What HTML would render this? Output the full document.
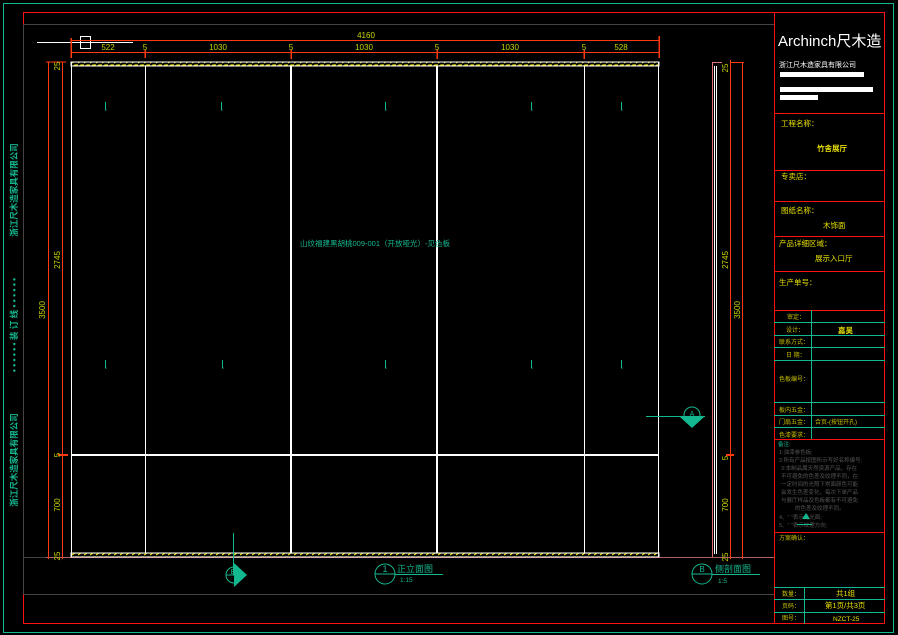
<!DOCTYPE html>
<html><head><meta charset="utf-8"><style>
html,body{margin:0;padding:0;background:#000;}
svg{display:block;}
text{font-family:"Liberation Sans","Noto Sans CJK SC",sans-serif;}
</style></head><body>
<svg width="898" height="635" viewBox="0 0 898 635" xmlns="http://www.w3.org/2000/svg">
<defs>
<pattern id="hatch" width="6" height="4" patternUnits="userSpaceOnUse">
<rect width="6" height="4" fill="#000"/><path d="M0 3 L3 1 L6 1" stroke="#e8e000" stroke-width="1.2" fill="none"/>
</pattern>
</defs>
<rect width="898" height="635" fill="#000"/>
<g shape-rendering="crispEdges">
<rect x="3.5" y="3.5" width="890" height="629" fill="none" stroke="#14b890" stroke-width="1"/>
<rect x="23.5" y="12.5" width="861" height="611" fill="none" stroke="#ff1010" stroke-width="1.2"/>
<line x1="23.5" y1="24.5" x2="774" y2="24.5" stroke="#444" stroke-width="1"/>
<line x1="23.5" y1="24.5" x2="23.5" y2="594" stroke="#444"/>
<line x1="23.5" y1="594.5" x2="774" y2="594.5" stroke="#444"/>
<line x1="23" y1="557.5" x2="774" y2="557.5" stroke="#444"/>
<line x1="46" y1="557.5" x2="774" y2="557.5" stroke="#b06060" stroke-width="0.8"/>
<line x1="774.5" y1="12" x2="774.5" y2="624" stroke="#ff1010" stroke-width="1.2"/>

<line x1="37" y1="42.5" x2="133" y2="42.5" stroke="#fff" stroke-width="1"/>
<rect x="80.5" y="36.5" width="10" height="12" fill="none" stroke="#fff"/>
<line x1="71" y1="40.5" x2="659" y2="40.5" stroke="#ff3a10"/>
<line x1="71" y1="52.5" x2="659" y2="52.5" stroke="#ff3a10"/>
<g stroke="#ff3a10" stroke-width="1.5">
<line x1="71" y1="38" x2="71" y2="58"/><line x1="145" y1="50" x2="145" y2="58"/><line x1="291" y1="50" x2="291" y2="59"/><line x1="437" y1="50" x2="437" y2="59"/><line x1="584" y1="50" x2="584" y2="59"/><line x1="659" y1="36" x2="659" y2="58"/>
</g>

<g stroke="#ff3a10" stroke-width="1">
<line x1="48.5" y1="62" x2="48.5" y2="559"/><line x1="62.5" y1="62" x2="62.5" y2="559"/>
<line x1="46" y1="62" x2="66" y2="62"/><line x1="58" y1="455" x2="68" y2="455" stroke-width="2"/>
</g>

<rect x="71" y="62" width="588" height="4" fill="url(#hatch)" stroke="#fff" stroke-width="1"/>
<rect x="71" y="553" width="588" height="4" fill="url(#hatch)" stroke="#fff" stroke-width="1"/>
<g stroke="#fff">
<line x1="71.5" y1="62" x2="71.5" y2="557" stroke-width="1"/>
<line x1="658.5" y1="62" x2="658.5" y2="557" stroke-width="1"/>
<line x1="145.5" y1="66" x2="145.5" y2="553" stroke-width="1"/>
<line x1="291" y1="66" x2="291" y2="553" stroke-width="2"/>
<line x1="437" y1="66" x2="437" y2="553" stroke-width="2"/>
<line x1="584.5" y1="66" x2="584.5" y2="553" stroke-width="1"/>
<line x1="71" y1="455" x2="659" y2="455" stroke-width="2"/>
</g>
<g stroke="#14b890" stroke-width="1">
<path d="M105.5 102 v8 h1 M221.5 102 v8 h1 M385.5 102 v8 h1 M531.5 102 v8 h1 M621.5 102 v8 h1"/>
<path d="M105.5 360 v8 h1 M222.5 360 v8 h1 M385.5 360 v8 h1 M531.5 360 v8 h1 M621.5 360 v8 h1"/>
</g>

<line x1="712.5" y1="62" x2="712.5" y2="557" stroke="#e07070"/>
<line x1="714.5" y1="66" x2="714.5" y2="554" stroke="#fff"/>
<line x1="716.5" y1="66" x2="716.5" y2="554" stroke="#fff"/>
<line x1="712" y1="62.5" x2="722" y2="62.5" stroke="#e07070"/>
<line x1="730.5" y1="60" x2="730.5" y2="559" stroke="#ff3a10"/>
<line x1="742.5" y1="62" x2="742.5" y2="559" stroke="#ff3a10"/>
<line x1="730" y1="62.5" x2="744" y2="62.5" stroke="#ff3a10"/>
<line x1="726" y1="455" x2="734" y2="455" stroke="#ff3a10" stroke-width="2"/>

<g stroke="#ff1010" stroke-width="1">
<line x1="774" y1="113.5" x2="885" y2="113.5"/><line x1="774" y1="170.5" x2="885" y2="170.5"/><line x1="774" y1="201.5" x2="885" y2="201.5"/><line x1="774" y1="236.5" x2="885" y2="236.5"/><line x1="774" y1="271.5" x2="885" y2="271.5"/><line x1="774" y1="310.5" x2="885" y2="310.5"/>
<line x1="774" y1="439.5" x2="885" y2="439.5"/><line x1="774" y1="532.5" x2="885" y2="532.5"/>
</g>
<g stroke="#14b890" stroke-width="1">
<line x1="774" y1="322.5" x2="885" y2="322.5"/><line x1="774" y1="335.5" x2="885" y2="335.5"/><line x1="774" y1="347.5" x2="885" y2="347.5"/><line x1="774" y1="360.5" x2="885" y2="360.5"/><line x1="774" y1="402.5" x2="885" y2="402.5"/><line x1="774" y1="415.5" x2="885" y2="415.5"/><line x1="774" y1="427.5" x2="885" y2="427.5"/>
<line x1="811.5" y1="310" x2="811.5" y2="439"/>
<line x1="774" y1="587.5" x2="885" y2="587.5"/><line x1="774" y1="599.5" x2="885" y2="599.5"/><line x1="774" y1="612.5" x2="885" y2="612.5"/>
<line x1="804.5" y1="587" x2="804.5" y2="624"/>
</g>
</g>

<g fill="#c8d400" font-size="8" text-anchor="middle">
<text x="366" y="38">4160</text>
<text x="108" y="50">522</text><text x="145" y="50">5</text><text x="218" y="50">1030</text><text x="291" y="50">5</text><text x="364" y="50">1030</text><text x="437" y="50">5</text><text x="510" y="50">1030</text><text x="584" y="50">5</text><text x="621" y="50">528</text>
</g>
<g fill="#c8d400" font-size="8" text-anchor="middle">
<text transform="translate(45,310) rotate(-90)">3500</text>
<text transform="translate(60,260) rotate(-90)">2745</text>
<text transform="translate(60,505) rotate(-90)">700</text>
<text transform="translate(60,455) rotate(-90)">5</text>
<text transform="translate(60,556) rotate(-90)">25</text>
<text transform="translate(60,66) rotate(-90)">25</text>
</g>
<text x="375" y="246" fill="#14b890" font-size="7.5" text-anchor="middle">山纹福建黑胡桃009-001（开放哑光）-见色板</text>

<line x1="233.5" y1="533" x2="233.5" y2="575" stroke="#14b890"/>
<circle cx="234" cy="575" r="8" fill="none" stroke="#14b890"/>
<line x1="226" y1="575" x2="242" y2="575" stroke="#14b890"/>
<polygon points="234,563 247,575 234,587" fill="#14b890"/>
<text x="233" y="574" fill="#14b890" font-size="7" text-anchor="middle">B</text>
<circle cx="385" cy="574" r="10" fill="none" stroke="#14b890"/>
<line x1="375" y1="574" x2="395" y2="574" stroke="#14b890"/>
<text x="385" y="572" fill="#14b890" font-size="9" text-anchor="middle">1</text>
<line x1="395" y1="574.5" x2="443" y2="574.5" stroke="#14b890"/>
<text x="397" y="572" fill="#14b890" font-size="9">正立面图</text>
<text x="400" y="582" fill="#14b890" font-size="6.5">1:15</text>

<g fill="#c8d400" font-size="8" text-anchor="middle">
<text transform="translate(740,310) rotate(-90)">3500</text>
<text transform="translate(728,260) rotate(-90)">2745</text>
<text transform="translate(728,505) rotate(-90)">700</text>
<text transform="translate(728,458) rotate(-90)">5</text>
<text transform="translate(728,557) rotate(-90)">25</text>
<text transform="translate(728,68) rotate(-90)">25</text>
</g>
<line x1="646" y1="416.5" x2="705" y2="416.5" stroke="#14b890"/>
<circle cx="692" cy="415" r="8" fill="none" stroke="#14b890"/>
<polygon points="680,417 704,417 692,428" fill="#14b890"/>
<text x="692" y="416" fill="#14b890" font-size="7" text-anchor="middle">A</text>
<circle cx="702" cy="574" r="10" fill="none" stroke="#14b890"/>
<line x1="692" y1="574" x2="712" y2="574" stroke="#14b890"/>
<text x="702" y="572" fill="#14b890" font-size="8" text-anchor="middle">B</text>
<line x1="712" y1="574.5" x2="760" y2="574.5" stroke="#14b890"/>
<text x="715" y="572" fill="#14b890" font-size="9">侧剖面图</text>
<text x="718" y="583" fill="#14b890" font-size="6.5">1:5</text>

<g fill="#14b890" font-size="8.5" font-weight="bold" text-anchor="middle">
<text transform="translate(17,190) rotate(-90)">浙江尺木造家具有限公司</text>
<text transform="translate(17,325) rotate(-90)">• • • • • •   装 订 线   • • • • • •</text>
<text transform="translate(17,460) rotate(-90)">浙江尺木造家具有限公司</text>
</g>

<text x="778" y="46" fill="#fff" font-size="15">Archinch尺木造</text>
<text x="779" y="67" fill="#fff" font-size="7">浙江尺木造家具有限公司</text>
<rect x="780" y="72" width="84" height="5" fill="#fff"/>
<rect x="780" y="87" width="93" height="5" fill="#fff"/>
<rect x="780" y="95" width="38" height="5" fill="#fff"/>
<g fill="#e8e000" font-size="7.5">
<text x="781" y="126">工程名称：</text>
<text x="817" y="151" font-weight="bold">竹舍展厅</text>
<text x="781" y="179">专卖店：</text>
<text x="781" y="213">图纸名称：</text>
<text x="823" y="228">木饰面</text>
<text x="779" y="246">产品详细区域：</text>
<text x="815" y="261">展示入口厅</text>
<text x="779" y="285">生产单号：</text>
</g>
<g fill="#c8c000" font-size="6">
<text x="787" y="319">审定：</text>
<text x="786" y="332">设计：</text>
<text x="779" y="344">联系方式：</text>
<text x="786" y="357">日 期：</text>
<text x="779" y="381">色板编号：</text>
<text x="779" y="412">板内五金：</text>
<text x="779" y="424">门扇五金：</text>
<text x="779" y="437">色漆要求：</text>
<text x="815" y="424">合页-(按钮开孔)</text>
<text x="779" y="540">方案确认：</text>
<text x="782" y="596">数量：</text>
<text x="782" y="608">页码：</text>
<text x="782" y="620">图号：</text>
</g>
<text x="838" y="333" fill="#e8e000" font-size="7.5" font-weight="bold">嘉昊</text>
<text x="836" y="596" fill="#e8e000" font-size="7.5">共1组</text>
<text x="825" y="608" fill="#e8e000" font-size="7.5">第1页/共3页</text>
<text x="833" y="621" fill="#e8e000" font-size="6.5">NZCT-25</text>
<g fill="#555" font-size="5.5">
<text x="778" y="446" fill="#14b890">备注:</text>
<text x="779" y="454">1:油漆参色板;</text>
<text x="779" y="462">2:所有产品按图所示写好名称编号;</text>
<text x="781" y="470">3:本制品属天然资源产品，存在</text>
<text x="781" y="478">不可避免的色差及纹理不同，在</text>
<text x="781" y="486">一定时间的光照下常面颜色可能</text>
<text x="781" y="494">会发生色差变化，每次下单产品</text>
<text x="781" y="502">与展厅样品及色板都有不可避免</text>
<text x="795" y="510">的色差及纹理不同。</text>
<text x="779" y="519">4、“  ”表示见光面;</text>
<text x="779" y="527">5、“  ”表示纹理方向;</text>
</g>
<polygon points="802,519 806,513 810,519" fill="#14b890"/>
<line x1="797" y1="524.5" x2="812" y2="524.5" stroke="#14b890"/>
</svg>
</body></html>
